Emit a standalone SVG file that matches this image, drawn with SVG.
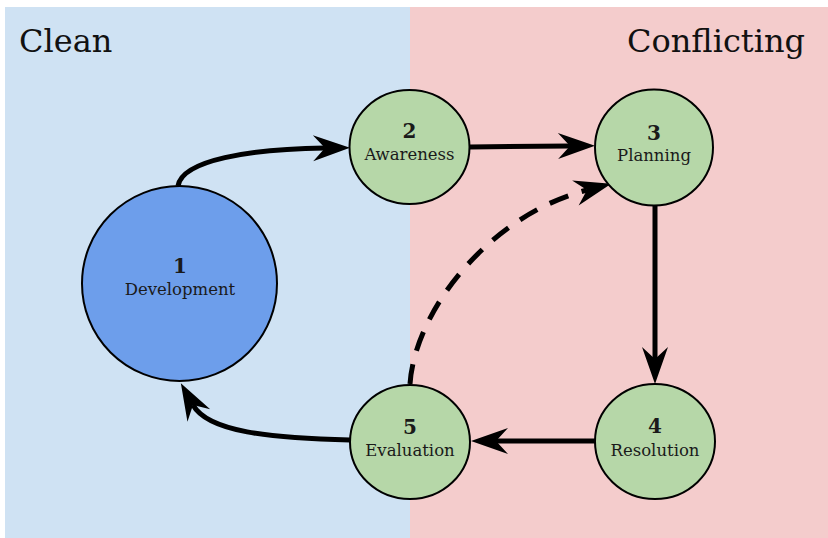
<svg xmlns="http://www.w3.org/2000/svg" width="828" height="538" viewBox="0 0 828 538">
<style>
.title{font-family:"DejaVu Serif","Liberation Serif",serif;font-size:32px;fill:#111}
.num{font-family:"DejaVu Serif","Liberation Serif",serif;font-size:20px;font-weight:bold;fill:#1a1a1a;text-anchor:middle}
.lbl{font-family:"DejaVu Serif","Liberation Serif",serif;font-size:16.5px;fill:#1a1a1a;text-anchor:middle}
.node{fill:#b6d7a8;stroke:#000;stroke-width:2}
.edge{fill:none;stroke:#000;stroke-width:5}
.dash{stroke-dasharray:20 14}
</style>
<defs>
<marker id="arr" viewBox="-14 -15 42 30" refX="0" refY="0" markerWidth="42" markerHeight="30" markerUnits="userSpaceOnUse" orient="auto">
<path d="M25,0 L-12,-13 L0,0 L-12,13 Z" fill="#000"/>
</marker>
</defs>
<rect x="5" y="7" width="405" height="531" fill="#cfe2f3"/>
<rect x="410" y="7" width="418" height="531" fill="#f4cccc"/>
<text class="title" x="19" y="52">Clean</text>
<text class="title" x="805" y="52" text-anchor="end">Conflicting</text>
<g id="edges">
<path class="edge" d="M178,186 C182,160 250,149 325,148" marker-end="url(#arr)"/>
<path class="edge" d="M470,147 L570,146" marker-end="url(#arr)"/>
<path class="edge" d="M655,206 L655,359" marker-end="url(#arr)"/>
<path class="edge" d="M595,441 L496,441" marker-end="url(#arr)"/>
<path class="edge" d="M350,440 C270,438 208,432 193,405" marker-end="url(#arr)"/>
<path class="edge dash" d="M410,384 C415,310 490,215 587,190" marker-end="url(#arr)"/>
</g>
<g id="n1">
<ellipse cx="179.5" cy="283.5" rx="97.5" ry="97.5" fill="#6d9eeb" stroke="#000" stroke-width="2"/>
<text class="num" x="180" y="273">1</text>
<text class="lbl" x="180" y="294.5">Development</text>
</g>
<g id="n2">
<ellipse class="node" cx="409.5" cy="147" rx="60" ry="57"/>
<text class="num" x="409.5" y="138">2</text>
<text class="lbl" x="409.5" y="159.5">Awareness</text>
</g>
<g id="n3">
<ellipse class="node" cx="654" cy="147.5" rx="59" ry="58"/>
<text class="num" x="654" y="139.5">3</text>
<text class="lbl" x="654" y="161">Planning</text>
</g>
<g id="n4">
<ellipse class="node" cx="655" cy="441.5" rx="60" ry="57.5"/>
<text class="num" x="655" y="433">4</text>
<text class="lbl" x="655" y="455.5">Resolution</text>
</g>
<g id="n5">
<ellipse class="node" cx="410" cy="442" rx="60" ry="57"/>
<text class="num" x="410" y="434">5</text>
<text class="lbl" x="410" y="456">Evaluation</text>
</g>
</svg>
